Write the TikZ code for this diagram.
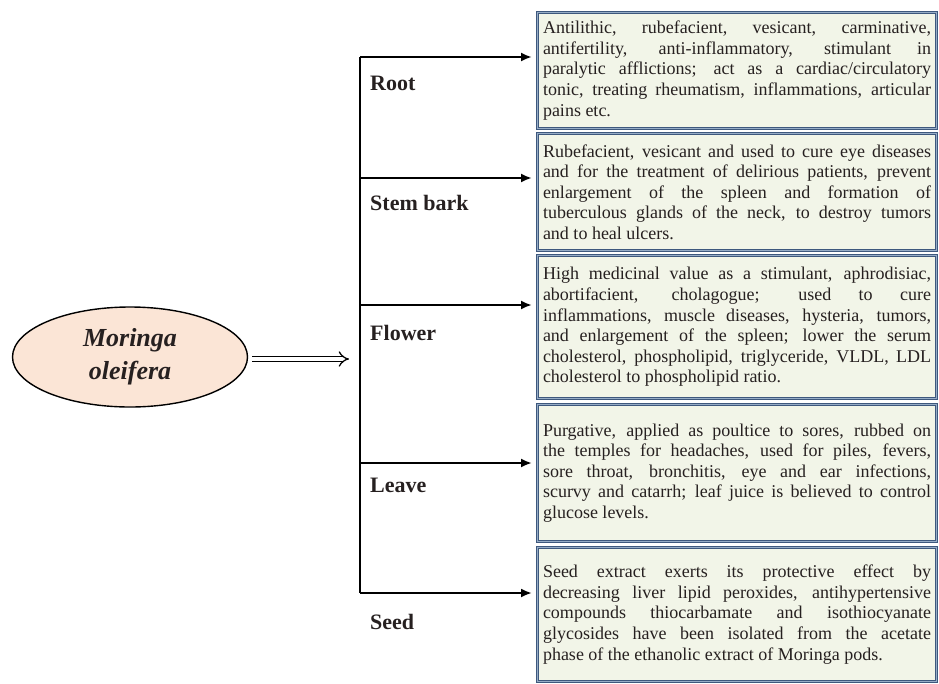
\documentclass[tikz,border=0pt]{standalone}
\usepackage{fontspec}
\setmainfont{Liberation Serif}
\usetikzlibrary{arrows.meta,shapes.geometric}
\definecolor{peach}{RGB}{251,229,214}
\definecolor{boxfill}{RGB}{242,245,232}
\definecolor{boxline}{RGB}{62,88,125}
\definecolor{boxline2}{RGB}{150,172,198}
\definecolor{txt}{RGB}{38,32,32}
\begin{document}
\begin{tikzpicture}[x=1pt,y=-1pt,
  descbox/.style={draw=boxline, double=boxline2, line width=1pt, double distance=1pt,
    fill=boxfill, anchor=north west, minimum width=399pt, text width=388pt,
    inner sep=5pt, align=justify, text=txt,
    font=\fontsize{18pt}{20.6pt}\selectfont},
  partlabel/.style={anchor=west, font=\fontsize{22pt}{24pt}\selectfont\bfseries, text=txt, inner sep=0pt},
  branch/.style={line width=2.6pt, -{Latex[length=11pt,width=9pt]}},
  trunk/.style={line width=2.6pt},
  hollowarrow/.style={line width=1.3pt, double=white, double distance=4pt, -{Implies}}
]
\useasboundingbox (0,0) rectangle (939,683);

% main ellipse
\node[ellipse, draw, line width=1.4pt, fill=peach, minimum width=235pt, minimum height=100pt,
  align=center, font=\fontsize{26pt}{33pt}\selectfont\bfseries\itshape, text=txt] (mo) at (130,357)
  {Moringa\\oleifera};

% tree
\coordinate (t0) at (360,57);
\coordinate (t1) at (360,178);
\coordinate (t2) at (360,305);
\coordinate (t3) at (360,463);
\coordinate (t4) at (360,593);
\coordinate (tin) at (349,359);
\draw[trunk] (t0) -- (t4);
\draw[hollowarrow] ([xshift=4pt]mo.east |- tin) -- (tin);

% boxes
\node[descbox, minimum height=116pt] (d1) at (537,12)
 {Antilithic, rubefacient, vesicant, carminative,\linebreak
  antifertility, anti-inflammatory, stimulant in\linebreak
  paralytic afflictions; act as a cardiac/circulatory\linebreak
  tonic, treating rheumatism, inflammations, articular\linebreak
  pains etc.};
\node[descbox, minimum height=117pt] (d2) at (537,133)
 {Rubefacient, vesicant and used to cure eye diseases\linebreak
  and for the treatment of delirious patients, prevent\linebreak
  enlargement of the spleen and formation of\linebreak
  tuberculous glands of the neck, to destroy tumors\linebreak
  and to heal ulcers.};
\node[descbox, minimum height=143pt] (d3) at (537,255)
 {High medicinal value as a stimulant, aphrodisiac,\linebreak
  abortifacient, cholagogue; used to cure\linebreak
  inflammations, muscle diseases, hysteria, tumors,\linebreak
  and enlargement of the spleen; lower the serum\linebreak
  cholesterol, phospholipid, triglyceride, VLDL, LDL\linebreak
  cholesterol to phospholipid ratio.};
\node[descbox, minimum height=137pt] (d4) at (537,404)
 {Purgative, applied as poultice to sores, rubbed on\linebreak
  the temples for headaches, used for piles, fevers,\linebreak
  sore throat, bronchitis, eye and ear infections,\linebreak
  scurvy and catarrh; leaf juice is believed to control\linebreak
  glucose levels.};
\node[descbox, minimum height=134pt] (d5) at (537,547)
 {Seed extract exerts its protective effect by\linebreak
  decreasing liver lipid peroxides, antihypertensive\linebreak
  compounds thiocarbamate and isothiocyanate\linebreak
  glycosides have been isolated from the acetate\linebreak
  phase of the ethanolic extract of Moringa pods.};

% branches
\draw[branch] (t0) -- ([xshift=-5pt]t0 -| d1.west);
\draw[branch] (t1) -- ([xshift=-5pt]t1 -| d2.west);
\draw[branch] (t2) -- ([xshift=-5pt]t2 -| d3.west);
\draw[branch] (t3) -- ([xshift=-5pt]t3 -| d4.west);
\draw[branch] (t4) -- ([xshift=-5pt]t4 -| d5.west);

% labels
\node[partlabel] (l1) at (370,83) {Root};
\node[partlabel] (l2) at (370,203) {Stem bark};
\node[partlabel] (l3) at (370,333) {Flower};
\node[partlabel] (l4) at (370,485) {Leave};
\node[partlabel] (l5) at (370,622) {Seed};
\end{tikzpicture}
\end{document}
